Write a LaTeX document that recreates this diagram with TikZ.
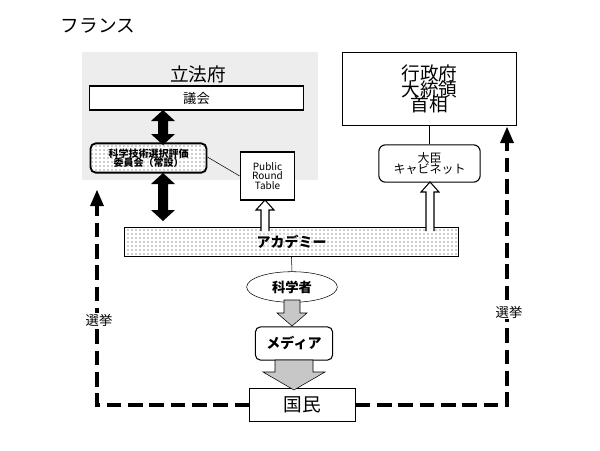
\documentclass[tikz,border=0pt]{standalone}
\usepackage{fontspec}
\setmainfont{Noto Sans CJK JP}
\usetikzlibrary{patterns,shapes.geometric}
\begin{document}
\begin{tikzpicture}[x=0.75pt,y=-0.75pt,
  box/.style={draw,fill=white,line width=0.8pt,inner sep=0pt},
  dotbox/.style={draw,fill=white,postaction={pattern=dots,pattern color=black!80}},
  dashc/.style={line width=3pt,dash pattern=on 11pt off 5pt},
  fnt/.style={font=\fontsize{#1}{\fpeval{1.2*#1}}\selectfont}]
\useasboundingbox (0,0) rectangle (600,450);
\node[fnt=14] (title) at (98,26) {フランス};
\fill[black!7] (82,52) rectangle (318,180);
\node[fnt=14] (leg) at (198,74) {立法府};
\node[box,minimum width=160pt,minimum height=18pt,fnt=10] (gikai) at (196.5,98) {議会};
\node[dotbox,rounded corners=4pt,line width=1.4pt,minimum width=87pt,minimum height=22pt,align=center,fnt=7.5,inner sep=0pt] (kagi) at (148.5,158) {\textbf{科学技術選択評価}\\[-2pt]\textbf{委員会（常設）}};
\node[box,minimum width=41pt,minimum height=36pt,align=center,fnt=7.5] (prt) at (267.5,176) {Public\\[-2pt]Round\\[-2pt]Table};
\node[dotbox,line width=0.8pt,minimum width=250pt,minimum height=22pt,fnt=10.5] (acad) at (291.5,242) {\textbf{アカデミー}};
\node[box,minimum width=130pt,minimum height=55pt,align=center,fnt=14] (exe) at (429.5,89) {行政府\\[-5pt]大統領\\[-5pt]首相};
\node[box,rounded corners=5pt,minimum width=76pt,minimum height=28pt,align=center,fnt=9] (cab) at (429.5,163.5) {大臣\\[-2pt]キャビネット};
\node[ellipse,draw,fill=white,minimum width=68pt,minimum height=21pt,fnt=10] (sci) at (292,287) {\textbf{科学者}};
\node[box,rounded corners=4pt,minimum width=58pt,minimum height=25pt,fnt=10.5] (media) at (294,343.5) {\textbf{メディア}};
\node[box,minimum width=79pt,minimum height=25pt,fnt=14] (kokumin) at (302.5,405) {国民};
% thin lines
\draw (kagi.east) ++(0,-1) -- (prt.west);
\draw (exe.south) -- (cab.north);
\draw (acad.south) -- (sci.north);
% double black arrows
\foreach \a/\b in {110/145,173/221}{
 \fill (163,\a) -- (175,\a+11) -- (168,\a+11) -- (168,\b-11) -- (175,\b-11) -- (163,\b) -- (151,\b-11) -- (158,\b-11) -- (158,\a+11) -- (151,\a+11) -- cycle;}
% hollow arrows
\foreach \x/\t in {265/200,430/182}{
 \draw[fill=white,line width=0.8pt] (\x-4,231) -- (\x-4,\t+10) -- (\x-9,\t+10) -- (\x,\t) -- (\x+9,\t+10) -- (\x+4,\t+10) -- (\x+4,231);}
% gray arrows
\draw[fill=black!22] (284,300) -- (284,313) -- (277,313) -- (292,326) -- (307,313) -- (300,313) -- (300,300) -- cycle;
\draw[fill=black!22] (275,360) -- (275,372) -- (263,372) -- (294,390) -- (325,372) -- (313,372) -- (313,360) -- cycle;
% election dashed
\draw[dashc] (kokumin.west) -- (97,405) -- (97,205);
\fill (97,190) -- (104,206) -- (90,206) -- cycle;
\draw[dashc] (kokumin.east) -- (507,405) -- (507,143);
\fill (507,127) -- (514,143) -- (500,143) -- cycle;
\node[fnt=10,fill=white,inner sep=1pt] (e1) at (99,320) {選挙};
\node[fnt=10,fill=white,inner sep=1pt] (e2) at (509,312) {選挙};
\end{tikzpicture}
\end{document}
